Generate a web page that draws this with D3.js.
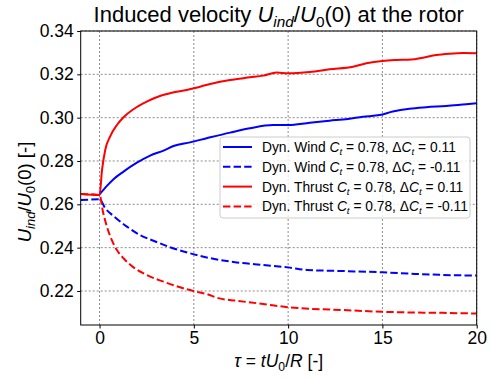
<!DOCTYPE html>
<html>
<head>
<meta charset="utf-8">
<script src="https://cdn.jsdelivr.net/npm/d3@7"></script>
<style>
  body { margin: 0; background: #fff; }
  svg { display: block; font-family: "Liberation Sans", Arial, sans-serif; }
</style>
</head>
<body>
<div id="chart"></div>
<script>
// Dyn. Wind, dCt = +0.11
let tauWindUp = [0, 0.39, 0.74, 1.27, 1.98, 2.68, 3.39, 3.92, 4.8, 5.68, 6.92, 7.97, 9.2, 10, 11.15, 12.2, 13.17, 13.97, 14.85, 15.55, 16.44, 17.32, 18.38, 19.44, 20];
let uWindUp   = [0.2646, 0.2685, 0.2716, 0.2751, 0.2792, 0.2825, 0.2848, 0.2869, 0.2886, 0.2905, 0.2931, 0.2951, 0.2966, 0.2966, 0.2977, 0.2986, 0.2994, 0.3004, 0.3012, 0.3028, 0.3041, 0.3048, 0.3054, 0.3062, 0.3066];

// Dyn. Wind, dCt = -0.11
let tauWindDown = [-1, 0, 0.3, 0.74, 1.45, 2.15, 2.86, 3.74, 4.8, 5.68, 7.27, 8.68, 10, 11, 12.9, 15, 16.44, 18.2, 20];
let uWindDown   = [0.2620, 0.2623, 0.2582, 0.2546, 0.2497, 0.2458, 0.2432, 0.2402, 0.2374, 0.2355, 0.2332, 0.2320, 0.2309, 0.2297, 0.2292, 0.2286, 0.2280, 0.2274, 0.2271];

// Dyn. Thrust, dCt = +0.11
let tauThrustUp = [-1, 0, 0.13, 0.30, 0.57, 0.92, 1.27, 1.8, 2.5, 3.2, 3.83, 4.62, 5.33, 6.39, 6.92, 7.97, 8.68, 9.39, 10, 11.15, 12.2, 13.44, 14.15, 15, 15.74, 16.53, 17.15, 17.85, 18.56, 19.27, 20];
let uThrustUp   = [0.2648, 0.2643, 0.2758, 0.2851, 0.2915, 0.2966, 0.3002, 0.3039, 0.3074, 0.3100, 0.3115, 0.3128, 0.3143, 0.3166, 0.3174, 0.3186, 0.3194, 0.3208, 0.3205, 0.3211, 0.3223, 0.3235, 0.3251, 0.3262, 0.3266, 0.3268, 0.3277, 0.3289, 0.3295, 0.3298, 0.3297];

// Dyn. Thrust, dCt = -0.11
let tauThrustDown = [-1, 0, 0.18, 0.39, 0.65, 0.92, 1.27, 1.8, 2.5, 3.39, 4.27, 4.97, 5.68, 6.35, 7.27, 8.68, 10, 11.15, 12.9, 15, 16.44, 18.2, 20];
let uThrustDown   = [0.2648, 0.2643, 0.2566, 0.2497, 0.2435, 0.2389, 0.2351, 0.2309, 0.2274, 0.2243, 0.2217, 0.2200, 0.2186, 0.2166, 0.2155, 0.2140, 0.2125, 0.2118, 0.2112, 0.2104, 0.2101, 0.2099, 0.2096];

let xTicks = [0, 5, 10, 15, 20];
let yTicks = [0.22, 0.24, 0.26, 0.28, 0.30, 0.32, 0.34];

let legendNames = ["Dyn. Wind", "Dyn. Wind", "Dyn. Thrust", "Dyn. Thrust"];
let legendDct   = ["0.11", "-0.11", "0.11", "-0.11"];

let larg = 491;
let alt = 379;
let m = {top: 31, right: 14.3, bottom: 54, left: 80.7};
let w = larg - m.left - m.right;
let h = alt - m.top - m.bottom;

let series = [
    {tau: tauWindUp,     u: uWindUp,     cor: "#0000ff", dash: null},
    {tau: tauWindDown,   u: uWindDown,   cor: "#0000ff", dash: "7.4,3.2"},
    {tau: tauThrustUp,   u: uThrustUp,   cor: "#ff0000", dash: null},
    {tau: tauThrustDown, u: uThrustDown, cor: "#ff0000", dash: "7.4,3.2"}
];

let svg = d3.select("#chart").append("svg")
            .attr("width", larg)
            .attr("height", alt);

let escalaX = d3.scaleLinear().domain([-1, 20]).range([0, w]);
let escalaY = d3.scaleLinear().domain([0.2043, 0.34]).range([h, 0]);

let g = svg.append("g").attr("transform", `translate(${m.left},${m.top})`);

// grid
g.append("g").selectAll("line")
    .data(xTicks).enter().append("line")
    .attr("x1", d => escalaX(d)).attr("x2", d => escalaX(d))
    .attr("y1", 0).attr("y2", h)
    .attr("stroke", "#8c8c8c").attr("stroke-width", 1).attr("stroke-dasharray", "2,2");
g.append("g").selectAll("line")
    .data(yTicks).enter().append("line")
    .attr("y1", d => escalaY(d)).attr("y2", d => escalaY(d))
    .attr("x1", 0).attr("x2", w)
    .attr("stroke", "#8c8c8c").attr("stroke-width", 1).attr("stroke-dasharray", "2,2");

g.append("clipPath").attr("id", "clip")
    .append("rect").attr("width", w).attr("height", h);

let linha = d3.line()
    .x(d => escalaX(d[0]))
    .y(d => escalaY(d[1]))
    .curve(d3.curveMonotoneX);

g.append("g").attr("clip-path", "url(#clip)")
    .selectAll("path")
    .data(series).enter().append("path")
    .attr("d", s => linha(d3.zip(s.tau, s.u)))
    .attr("fill", "none")
    .attr("stroke", s => s.cor)
    .attr("stroke-width", 2)
    .attr("stroke-dasharray", s => s.dash);

// axes
let eixoX = g.append("g")
    .attr("transform", `translate(0,${h})`)
    .call(d3.axisBottom(escalaX).tickValues(xTicks).tickSize(3.5).tickPadding(3.5).tickFormat(d3.format("d")));
let eixoY = g.append("g")
    .call(d3.axisLeft(escalaY).tickValues(yTicks).tickSize(3.5).tickPadding(3.5).tickFormat(d3.format(".2f")));
[eixoX, eixoY].forEach(a => {
    a.select(".domain").remove();
    a.selectAll("text").attr("font-size", 17.5).attr("font-family", "Liberation Sans").attr("fill", "#000");
    a.selectAll("line").attr("stroke", "#000");
});

g.append("rect")
    .attr("width", w).attr("height", h)
    .attr("fill", "none").attr("stroke", "#000").attr("stroke-width", 1);

// text with sub/italic pieces: [text, "i" | "s" (italic sub) | "s0" (upright sub) | ""]
function rico(sel, parts, fs) {
    let desl = 0;
    parts.forEach(p => {
        let t = sel.append("tspan").text(p[0]);
        let alvo = (p[1] == "s" || p[1] == "s0") ? fs * 0.22 : 0;
        if (alvo != desl) { t.attr("dy", alvo - desl); desl = alvo; }
        if (p[1] == "i" || p[1] == "s") t.style("font-style", "italic");
        if (p[1] == "s" || p[1] == "s0") t.attr("font-size", fs * 0.7);
    });
}

// title
let titulo = svg.append("text")
    .attr("x", m.left + w / 2).attr("y", 22)
    .attr("text-anchor", "middle").attr("font-size", 22);
rico(titulo, [["Induced velocity ", ""], ["U", "i"], ["ind", "s"], ["/", ""], ["U", "i"], ["0", "s0"], ["(0) at the rotor", ""]], 22);

// x label
let rotX = svg.append("text")
    .attr("x", m.left + w / 2).attr("y", 367)
    .attr("text-anchor", "middle").attr("font-size", 17.5);
rico(rotX, [["τ", "i"], [" = ", ""], ["tU", "i"], ["0", "s0"], ["/", ""], ["R", "i"], [" [-]", ""]], 17.5);

// y label
let rotY = svg.append("text")
    .attr("transform", "translate(31,192) rotate(-90)")
    .attr("text-anchor", "middle").attr("font-size", 18.5);
rico(rotY, [["U", "i"], ["ind", "s"], ["/", ""], ["U", "i"], ["0", "s0"], ["(0) [-]", ""]], 18.5);

// legend
let leg = svg.append("g").attr("transform", "translate(220,137)");
leg.append("rect")
    .attr("width", 250).attr("height", 81).attr("rx", 3)
    .attr("fill", "#fff").attr("fill-opacity", 0.8)
    .attr("stroke", "#cccccc");
series.forEach((s, i) => {
    let y = 10 + i * 19.8;
    leg.append("line")
        .attr("x1", 3).attr("x2", 32).attr("y1", y).attr("y2", y)
        .attr("stroke", s.cor).attr("stroke-width", 2)
        .attr("stroke-dasharray", s.dash);
    let t = leg.append("text").attr("x", 42).attr("y", y + 5).attr("font-size", 13.8);
    rico(t, [[legendNames[i] + " ", ""], ["C", "i"], ["t", "s"], [" = 0.78, Δ", ""], ["C", "i"], ["t", "s"], [" = " + legendDct[i], ""]], 13.8);
});
</script>
</body>
</html>
